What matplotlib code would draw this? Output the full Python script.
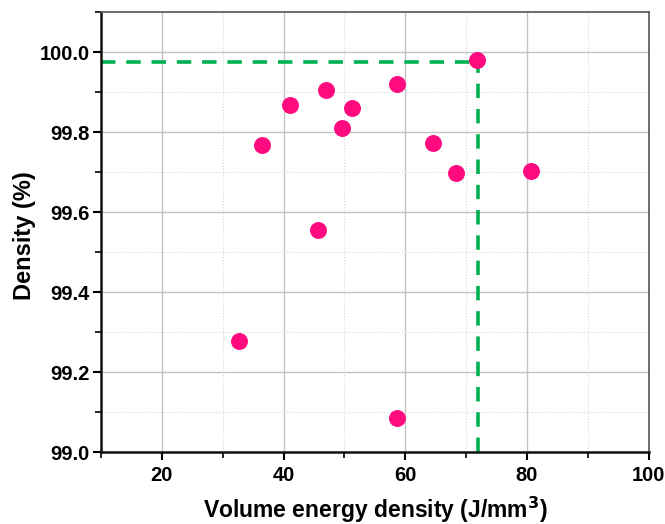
import matplotlib.pyplot as plt
from matplotlib.ticker import MultipleLocator

plt.rcParams['font.family'] = ['Liberation Sans', 'DejaVu Sans']
plt.rcParams['font.weight'] = 'bold'

# volume energy density (J/mm^3) and relative density (%)
energy = [32.6, 36.4, 41.0, 46.9, 45.6, 49.6, 51.2, 58.6, 58.6, 64.5, 68.4, 71.7, 80.6]
density = [99.277, 99.768, 99.867, 99.906, 99.555, 99.809, 99.859, 99.920, 99.086,
           99.772, 99.697, 99.980, 99.703]

# optimum marked by the guide lines
opt_energy = 72.0
opt_density = 99.975

fig = plt.figure(figsize=(6.65, 5.24), dpi=100)
ax = fig.add_axes([0.152, 0.137, 0.8235, 0.84])

ax.set_xlim(10, 100)
ax.set_ylim(99.0, 100.1)
ax.xaxis.set_major_locator(MultipleLocator(20))
ax.xaxis.set_minor_locator(MultipleLocator(10))
ax.yaxis.set_major_locator(MultipleLocator(0.2))
ax.yaxis.set_minor_locator(MultipleLocator(0.1))

ax.grid(which='major', color='#c4c4c4', lw=1.0)
ax.grid(which='minor', color='#d8d8d8', lw=0.8, ls=':')
ax.set_axisbelow(True)

ax.plot([10, opt_energy], [opt_density, opt_density], ls=(0, (4, 3)),
        color='#00b050', lw=2.6, zorder=2)
ax.plot([opt_energy, opt_energy], [99.0, opt_density], ls=(0, (4, 3)),
        color='#00b050', lw=2.6, zorder=2)

ax.scatter(energy, density, s=125, color='#ff0a7f', zorder=3, clip_on=False)

for side in ('left', 'bottom'):
    ax.spines[side].set_linewidth(1.8)
    ax.spines[side].set_color('#111111')
for side in ('top', 'right'):
    ax.spines[side].set_linewidth(1.2)
    ax.spines[side].set_color('#555555')

ax.tick_params(which='major', direction='out', length=6, width=1.5, labelsize=14.5)
ax.tick_params(which='minor', direction='out', length=4, width=1.2)
ax.tick_params(axis='y', pad=2)
ax.tick_params(axis='x', pad=4)
ax.yaxis.set_major_formatter(plt.FormatStrFormatter('%.1f'))
for lbl in ax.get_xticklabels() + ax.get_yticklabels():
    lbl.set_fontweight('bold')

ax.set_xlabel('Volume energy density (J/mm$^\\mathbf{3}$)', fontsize=16.5,
              fontweight='bold')
ax.set_ylabel('Density (%)', fontsize=17, fontweight='bold')
ax.xaxis.set_label_coords(0.5, -0.096)
ax.yaxis.set_label_coords(-0.119, 0.493)

fig.savefig('out.png', dpi=100)
